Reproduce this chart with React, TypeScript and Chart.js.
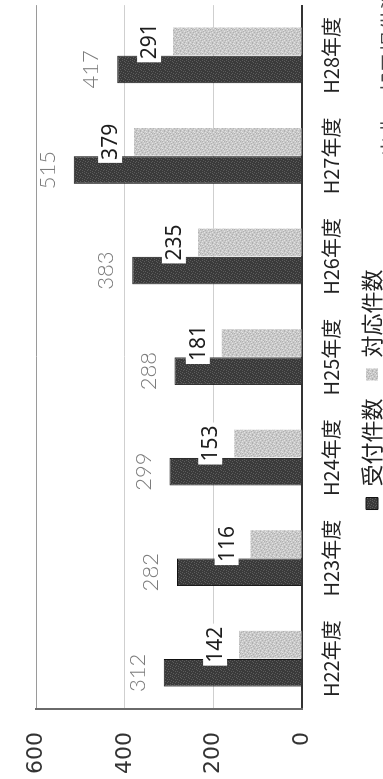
import { useEffect, useRef } from "react";
import { Chart, registerables } from "chart.js";

Chart.register(...registerables);

// Fiscal years (平成22〜28年度) and the two counted series
const categories = ["H22年度", "H23年度", "H24年度", "H25年度", "H26年度", "H27年度", "H28年度"];
const receivedCounts = [312, 282, 299, 288, 383, 515, 417];
const handledCounts = [142, 116, 153, 181, 235, 379, 291];
const seriesNames = ["受付件数", "対応件数"];
const valueTicks = [0, 200, 400, 600];
const sourceNote = "出典：部局提供資料";

// The chart is laid out landscape and then turned a quarter turn counter-clockwise.
const CHART_W = 779;
const CHART_H = 383;

const CJK = "'Noto Sans CJK JP', 'Noto Sans', sans-serif";

// Small fixed tiles give the bars their printed, grainy fill.
const DARK_TILE = [
  "01000100",
  "00010000",
  "10000010",
  "00100000",
  "00000101",
  "01001000",
  "00000010",
  "10010000",
];
const LIGHT_TILE = [
  "10020100",
  "00100002",
  "02000120",
  "00012000",
  "10200001",
  "00001020",
  "20100000",
  "00000210",
];

function makePattern(rows: string[], shades: string[]): CanvasPattern | string {
  const tile = document.createElement("canvas");
  tile.width = rows[0].length;
  tile.height = rows.length;
  const g = tile.getContext("2d");
  if (!g) return shades[0];
  rows.forEach((row, y) => {
    row.split("").forEach((ch, x) => {
      g.fillStyle = shades[Number(ch)] ?? shades[0];
      g.fillRect(x, y, 1, 1);
    });
  });
  return g.createPattern(tile, "repeat") ?? shades[0];
}

const valueLabels = {
  id: "valueLabels",
  afterDatasetsDraw(chart: any) {
    const ctx: CanvasRenderingContext2D = chart.ctx;
    ctx.save();
    ctx.textAlign = "center";
    ctx.textBaseline = "middle";
    chart.data.datasets.forEach((ds: any, di: number) => {
      const meta = chart.getDatasetMeta(di);
      meta.data.forEach((bar: any, i: number) => {
        const text = String(ds.data[i]);
        if (di === 0) {
          ctx.font = "300 22px Lato, 'Liberation Sans', sans-serif";
          ctx.fillStyle = "#7c7c7c";
          ctx.fillText(text, bar.x, bar.y - 26);
        } else {
          ctx.font = "21px 'Noto Sans', sans-serif";
          const w = ctx.measureText(text).width;
          const cy = bar.y - 24;
          ctx.fillStyle = "#ffffff";
          ctx.fillRect(bar.x - w / 2 - 3, cy - 12, w + 6, 24);
          ctx.fillStyle = "#1e1e1e";
          ctx.fillText(text, bar.x, cy + 1);
        }
      });
    });
    ctx.restore();
  },
  afterDraw(chart: any) {
    const ctx: CanvasRenderingContext2D = chart.ctx;
    ctx.save();
    ctx.font = `21px ${CJK}`;
    ctx.fillStyle = "#444";
    ctx.textAlign = "left";
    ctx.textBaseline = "middle";
    ctx.fillText(sourceNote, 622, 390);
    ctx.restore();
  },
};

export default function App() {
  const canvasRef = useRef<HTMLCanvasElement | null>(null);

  useEffect(() => {
    const canvas = canvasRef.current;
    if (!canvas) return;
    const darkFill = makePattern(DARK_TILE, ["#3a3a3a", "#5c5c5c"]);
    const lightFill = makePattern(LIGHT_TILE, ["#c9c9c9", "#b0b0b0", "#e2e2e2"]);

    const chart = new Chart(canvas, {
      type: "bar",
      data: {
        labels: categories,
        datasets: [
          {
            label: seriesNames[0],
            data: receivedCounts,
            backgroundColor: darkFill as any,
            borderColor: "#111111",
            borderWidth: 1,
            categoryPercentage: 0.56,
            barPercentage: 0.98,
          },
          {
            label: seriesNames[1],
            data: handledCounts,
            backgroundColor: lightFill as any,
            borderWidth: 0,
            categoryPercentage: 0.56,
            barPercentage: 0.98,
          },
        ],
      },
      options: {
        responsive: false,
        animation: false,
        devicePixelRatio: 1,
        layout: { padding: { top: 17, right: 0, bottom: -10, left: 0 } },
        plugins: {
          legend: {
            position: "bottom",
            labels: {
              boxWidth: 12,
              boxHeight: 12,
              padding: 18,
              color: "#222",
              font: { size: 22, family: CJK },
            },
          },
          tooltip: { enabled: false },
        },
        scales: {
          x: {
            grid: { display: false, drawTicks: false },
            border: { display: true, color: "#333", width: 2 },
            ticks: {
              color: "#222",
              padding: 17,
              maxRotation: 0,
              autoSkip: false,
              font: { size: 20, family: CJK },
            },
            afterFit: (scale: any) => {
              scale.height = 41;
            },
          },
          y: {
            min: valueTicks[0],
            max: valueTicks[valueTicks.length - 1],
            afterBuildTicks: (scale: any) => {
              scale.ticks = valueTicks.map((v) => ({ value: v }));
            },
            grid: {
              drawTicks: false,
              color: (c: any) => (c.tick && c.tick.value === 600 ? "#9a9a9a" : "#cfcfcf"),
              lineWidth: 1,
            },
            border: { display: true, color: "#6a6a6a", width: 2 },
            ticks: {
              color: "#333",
              padding: 23,
              font: { size: 22, family: "'DejaVu Sans', sans-serif" },
            },
            afterFit: (scale: any) => {
              scale.width = 70;
            },
          },
        },
      },
      plugins: [valueLabels],
    });
    return () => chart.destroy();
  }, []);

  return (
    <div
      style={{
        position: "fixed",
        left: 0,
        top: 0,
        width: CHART_H,
        height: CHART_W,
        overflow: "hidden",
        background: "#ffffff",
      }}
    >
      <div
        style={{
          position: "absolute",
          left: 0,
          top: 0,
          width: CHART_W,
          height: CHART_H,
          transformOrigin: "0 0",
          transform: `translateY(${CHART_W}px) rotate(-90deg)`,
        }}
      >
        <canvas
          ref={canvasRef}
          width={CHART_W}
          height={CHART_H}
          style={{ display: "block", width: CHART_W, height: CHART_H }}
        />
      </div>
    </div>
  );
}
